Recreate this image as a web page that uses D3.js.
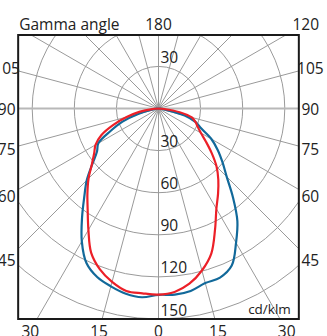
<!DOCTYPE html>
<html>
<head>
<meta charset="utf-8">
<script src="https://cdn.jsdelivr.net/npm/d3@7"></script>
<style>
  html, body { margin: 0; padding: 0; background: #fff; }
  svg { display: block; }
  text { font-family: "Open Sans", "DejaVu Sans", sans-serif; fill: #222; }
</style>
</head>
<body>
<div id="chart"></div>
<script>
// ---- Data (cd/klm) ----
const gammaAngles = [0, 5, 10, 15, 20, 25, 30, 35, 40, 45, 50, 55, 60, 65, 70, 75, 80, 85, 90];
// Blue curve: C180 (left half) and C0 (right half)
const blueLeft  = [132.8, 135.0, 134.0, 131.2, 127.8, 121.5, 109.3, 95.0, 82.3, 72.3, 61.5, 53.5, 49.5, 37.5, 27.3, 15.0, 5.0, 1.5, 0];
const blueRight = [132.8, 133.1, 132.0, 128.8, 128.2, 123.5, 110.5, 98.0, 82.5, 68.7, 59.5, 51.5, 43.5, 33.5, 28.0, 19.3, 5.0, 1.5, 0];
// Red curve: C270 (left half) and C90 (right half)
const redLeft   = [132.6, 132.2, 132.0, 127.9, 122.0, 113.5, 99.9, 88.0, 78.8, 70.5, 62.0, 56.0, 51.8, 45.0, 34.5, 23.5, 13.9, 4.5, 0];
const redRight  = [132.5, 131.2, 126.8, 119.5, 110.0, 95.3, 82.5, 74.0, 66.3, 58.5, 49.5, 41.3, 34.9, 30.8, 28.0, 24.6, 15.3, 4.0, 0];

const circleValues = [30, 60, 90, 120, 150, 180];
const circleLabels = ["30", "60", "90", "120", "150"];
const spokeAngles = d3.range(0, 360, 15);
const sideLabels = ["105", "90", "75", "60", "45"];
const bottomLabels = ["30", "15", "0", "15", "30"];
const topLabels = ["180", "120"];
const unitLabel = "cd/klm";
const axisTitle = "Gamma angle";

// ---- Layout ----
const W = 327, H = 336;
const cx = 158.5, cy = 108.5;
const r = d3.scaleLinear().domain([0, 150]).range([0, 210.5]);
const box = { left: cx - r(100), right: cx + r(100), top: 35, bottom: cy + r(150) };
const blue = "#12699a", red = "#ec2028", grid = "#9a9a9a";

const svg = d3.select("#chart").append("svg").attr("width", W).attr("height", H);
svg.append("clipPath").attr("id", "clip").append("rect")
  .attr("x", box.left).attr("y", box.top)
  .attr("width", box.right - box.left).attr("height", box.bottom - box.top);

const g = svg.append("g").attr("clip-path", "url(#clip)");

// circles
g.selectAll("circle.ring").data(circleValues).join("circle")
  .attr("class", "ring").attr("cx", cx).attr("cy", cy).attr("r", d => r(d))
  .attr("fill", "none").attr("stroke", grid).attr("stroke-width", 1);

// spokes (gamma measured from straight down)
const far = 400;
g.selectAll("line.spoke").data(spokeAngles.filter(a => a % 180 !== 90)).join("line")
  .attr("x1", cx).attr("y1", cy)
  .attr("x2", a => cx + far * Math.sin(a * Math.PI / 180))
  .attr("y2", a => cy + far * Math.cos(a * Math.PI / 180))
  .attr("stroke", grid).attr("stroke-width", 1);
// horizontal 90° line
g.append("line").attr("x1", box.left).attr("x2", box.right).attr("y1", cy).attr("y2", cy)
  .attr("stroke", "#b8b8b8").attr("stroke-width", 2);

// curves
function halfPoints(vals, side) {
  return gammaAngles.map((ga, i) => ({
    a: side > 0 ? Math.PI - ga * Math.PI / 180 : Math.PI + ga * Math.PI / 180,
    v: vals[i]
  }));
}
const radial = d3.lineRadial().angle(d => d.a).radius(d => r(d.v))
  .curve(d3.curveCatmullRom.alpha(0.5));
const series = [
  { left: blueLeft, right: blueRight, color: blue },
  { left: redLeft, right: redRight, color: red }
];
series.forEach(s => {
  const pts = halfPoints(s.left, -1).reverse().concat(halfPoints(s.right, 1).slice(1));
  g.append("path").attr("transform", `translate(${cx},${cy})`)
    .attr("d", radial(pts)).attr("fill", "none")
    .attr("stroke", s.color).attr("stroke-width", 2.2).attr("stroke-linejoin", "round");
});

// circle labels
svg.selectAll("text.cl").data(circleLabels).join("text")
  .attr("class", "cl").attr("x", cx + 2).attr("y", d => cy + r(+d) - 3.5)
  .attr("font-size", 15.5).text(d => d);
svg.append("text").attr("x", cx + 2).attr("y", cy - r(30) - 3)
  .attr("font-size", 15.5).text(circleLabels[0]);

// frame
svg.append("rect").attr("x", box.left).attr("y", box.top)
  .attr("width", box.right - box.left).attr("height", box.bottom - box.top)
  .attr("fill", "none").attr("stroke", "#1a1a1a").attr("stroke-width", 2);

// edge labels along rays
const off = 11.5;
const ob = { left: box.left - off, right: box.right + off, top: box.top - off, bottom: box.bottom + off };
function rayHit(dx, dy) {
  let t = Infinity;
  if (dx > 0) t = Math.min(t, (ob.right - cx) / dx);
  if (dx < 0) t = Math.min(t, (ob.left - cx) / dx);
  if (dy > 0) t = Math.min(t, (ob.bottom - cy) / dy);
  if (dy < 0) t = Math.min(t, (ob.top - cy) / dy);
  return [cx + t * dx, cy + t * dy];
}
const edgeLabels = [];
sideLabels.forEach(l => {
  const a = +l * Math.PI / 180;
  edgeLabels.push({ t: l, p: rayHit(Math.sin(a), Math.cos(a)) });
  edgeLabels.push({ t: l, p: rayHit(-Math.sin(a), Math.cos(a)) });
});
bottomLabels.forEach((l, i) => {
  const a = +l * Math.PI / 180 * (i < 2 ? -1 : 1);
  edgeLabels.push({ t: l, p: rayHit(Math.sin(a), Math.cos(a)) });
});
topLabels.forEach(l => {
  const a = +l * Math.PI / 180;
  edgeLabels.push({ t: l, p: rayHit(Math.sin(a), Math.cos(a)) });
});
svg.selectAll("text.el").data(edgeLabels).join("text")
  .attr("class", "el").attr("x", d => d.p[0]).attr("y", d => d.p[1])
  .attr("text-anchor", "middle").attr("dominant-baseline", "central")
  .attr("font-size", 15.5).text(d => d.t);

svg.append("text").attr("x", box.left + 1).attr("y", box.top - off)
  .attr("dominant-baseline", "central").attr("font-size", 15.5).text(axisTitle);
svg.append("text").attr("x", box.right - 8).attr("y", box.bottom - 5)
  .attr("text-anchor", "end").attr("font-size", 13.5).text(unitLabel);
</script>
</body>
</html>
